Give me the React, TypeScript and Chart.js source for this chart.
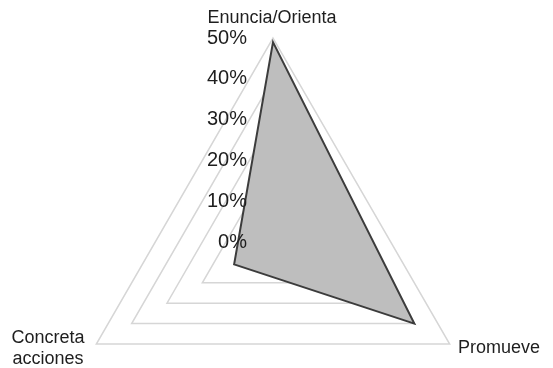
import React, { useEffect, useRef } from "react";
import { Chart, registerables } from "chart.js";

Chart.register(...registerables);

// Axis categories (multi-line labels as arrays)
const categories: (string | string[])[] = ["Enuncia/Orienta", "Promueve", ["Concreta", "acciones"]];
// Share of mentions per category, in percent
const values = [49, 40, 11];
// Radial scale range
const scaleMin = 0;
const scaleMax = 50;
const scaleStep = 10;

const FONT = "'Liberation Sans', Arial, Helvetica, sans-serif";
const TEXT_COLOR = "#1e1e1e";

// Placement of each category label relative to its outer vertex
const labelPlacement = [
  { dx: -1, dy: -19.5, align: "center" as CanvasTextAlign },
  { dx: 8.3, dy: 4, align: "left" as CanvasTextAlign },
  { dx: -48.3, dy: -5.7, align: "center" as CanvasTextAlign },
];

const radarText = {
  id: "radarText",
  afterDatasetsDraw(chart: any) {
    const scale = chart.scales.r;
    const ctx: CanvasRenderingContext2D = chart.ctx;
    ctx.save();
    // tick labels, right-aligned just left of the vertical axis
    ctx.font = `20px ${FONT}`;
    ctx.fillStyle = TEXT_COLOR;
    ctx.textAlign = "right";
    ctx.textBaseline = "middle";
    for (const t of scale.ticks) {
      const y = scale.yCenter - scale.getDistanceFromCenterForValue(t.value);
      ctx.fillText(`${t.value}%`, scale.xCenter - 26, y);
    }
    // category labels
    ctx.font = `18px ${FONT}`;
    categories.forEach((lab, i) => {
      const p = scale.getPointPosition(i, scale.drawingArea);
      const place = labelPlacement[i];
      ctx.textAlign = place.align;
      const lines = Array.isArray(lab) ? lab : [lab];
      lines.forEach((line, j) => {
        ctx.fillText(line, p.x + place.dx, p.y + place.dy + j * 20.5);
      });
    });
    ctx.restore();
  },
};

export default function App() {
  const canvasRef = useRef<HTMLCanvasElement | null>(null);

  useEffect(() => {
    if (!canvasRef.current) return;
    const chart = new Chart(canvasRef.current, {
      type: "radar",
      data: {
        labels: categories as any,
        datasets: [
          {
            data: values,
            backgroundColor: "#bebebe",
            borderColor: "#3c3c3c",
            borderWidth: 2,
            pointRadius: 0,
            pointHoverRadius: 0,
            fill: true,
          },
        ],
      },
      options: {
        animation: false,
        responsive: false,
        devicePixelRatio: 1,
        layout: { padding: { top: 38, bottom: 44, left: 0, right: 7 } },
        plugins: {
          legend: { display: false },
          tooltip: { enabled: false },
        },
        elements: { line: { tension: 0, borderJoinStyle: "miter" } },
        scales: {
          r: {
            min: scaleMin,
            max: scaleMax,
            beginAtZero: true,
            startAngle: 0,
            ticks: { stepSize: scaleStep, display: false },
            pointLabels: { display: false },
            angleLines: { display: false },
            grid: { color: "#d6d6d6", lineWidth: 1.5, circular: false },
          },
        },
      },
      plugins: [radarText],
    });
    return () => chart.destroy();
  }, []);

  return (
    <div
      style={{
        position: "fixed",
        top: 0,
        left: 0,
        width: 553,
        height: 368,
        overflow: "hidden",
        background: "#ffffff",
      }}
    >
      <canvas ref={canvasRef} width={553} height={490} style={{ display: "block" }} />
    </div>
  );
}
